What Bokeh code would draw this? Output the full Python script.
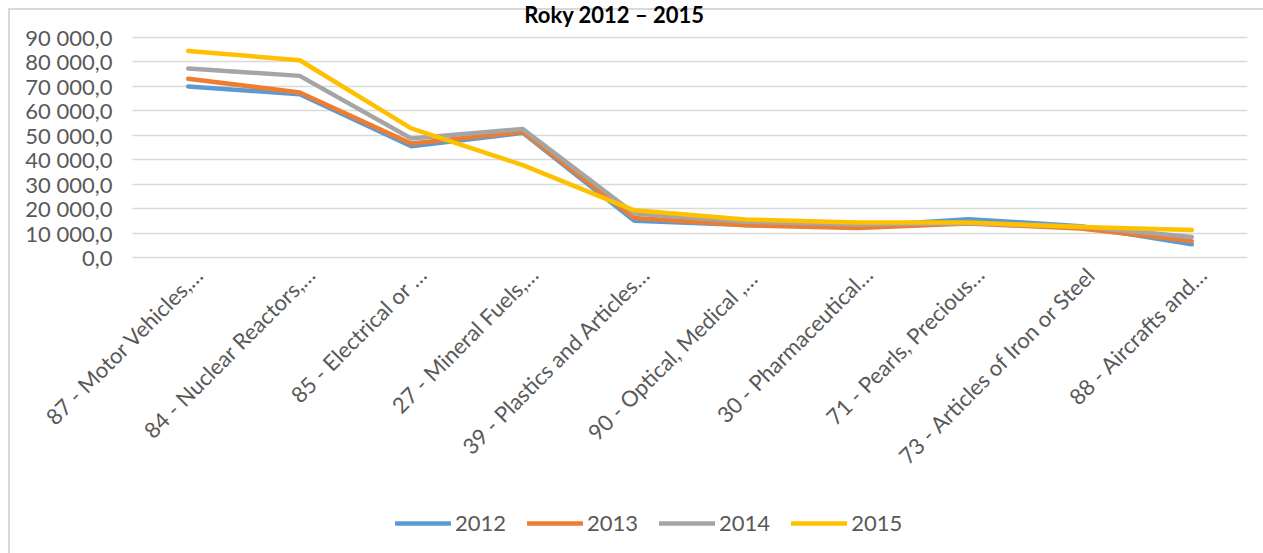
import math
from bokeh.plotting import figure
from bokeh.models import (Range1d, FixedTicker, Legend, LegendItem,
                          Label, LinearAxis, Grid)
from bokeh.embed import file_html
from bokeh.resources import INLINE

# ---------------- data ----------------
categories = [
    "87 - Motor Vehicles,…",
    "84 - Nuclear Reactors,…",
    "85 - Electrical or …",
    "27 - Mineral Fuels,…",
    "39 - Plastics and Articles…",
    "90 - Optical,  Medical ,…",
    "30 - Pharmaceutical…",
    "71 - Pearls, Precious…",
    "73 - Articles of Iron or Steel",
    "88 - Aircrafts and…",
]
years = ["2012", "2013", "2014", "2015"]
v2012 = [70000, 66800, 45500, 51000, 15000, 13300, 12800, 15700, 12800, 5400]
v2013 = [73100, 67500, 46600, 51400, 16200, 13200, 12100, 13900, 11900, 6700]
v2014 = [77300, 74300, 48700, 52600, 18000, 14600, 13500, 14000, 12700, 8400]
v2015 = [84500, 80700, 52800, 37800, 19300, 15500, 14300, 14300, 12500, 11200]
series = [v2012, v2013, v2014, v2015]
colors = ["#5B9BD5", "#ED7D31", "#A5A5A5", "#FFC000"]
y_ticks = [0, 10000, 20000, 30000, 40000, 50000, 60000, 70000, 80000, 90000]
y_tick_labels = ["0,0", "10 000,0", "20 000,0", "30 000,0", "40 000,0",
                 "50 000,0", "60 000,0", "70 000,0", "80 000,0", "90 000,0"]
title_text = "Roky 2012 – 2015"

FONT = "Lato"
TXT = "#595959"
FS = "22px"

n = len(categories)
x_pos = list(range(n))  # category slots on the x scale

# The drawing frame covers the whole chart area (so that the category labels,
# the value labels, the title and the legend are not clipped).
PLOT_H = 220            # pixels between 0 and 90 000
ABOVE_H = 37            # pixels above the 90 000 line
BELOW_H = 296           # pixels from the 0 line to the chart bottom
SLOT_W = 111.5          # pixels per category
LEFT_W = 122            # pixels from frame left edge to the plot area
y_max = y_ticks[-1]
y_top = y_max + y_max * ABOVE_H / PLOT_H
y_bottom = -y_max * BELOW_H / PLOT_H
x_left = -0.5 - LEFT_W / SLOT_W
x_right = n - 0.5

p = figure(
    x_range=Range1d(x_left, x_right),
    y_range=Range1d(y_bottom, y_top),
    width=1263, height=553,
    output_backend="svg", toolbar_location=None,
    min_border_left=10, min_border_right=16,
    min_border_top=0, min_border_bottom=0,
)
p.outline_line_color = None
p.background_fill_alpha = 0
p.border_fill_alpha = 0
# outer chart border (only its left and top edges are on screen)
p.styles = {
    "background": ("linear-gradient(#d9d9d9,#d9d9d9) 8px 8px / 2px 100% no-repeat, "
                   "linear-gradient(#d9d9d9,#d9d9d9) 8px 8px / 100% 2px no-repeat, white"),
}

# y axis, fixed at the left edge of the plot area
yax = p.yaxis[0]
yax.fixed_location = -0.5
yax.ticker = FixedTicker(ticks=y_ticks)
yax.major_label_overrides = {t: l for t, l in zip(y_ticks, y_tick_labels)}
yax.axis_line_color = None
yax.major_tick_line_color = None
yax.minor_tick_line_color = None
yax.major_tick_in = 0
yax.major_tick_out = 0
yax.major_label_standoff = 20
yax.major_label_text_font = FONT
yax.major_label_text_font_size = FS
yax.major_label_text_color = TXT

# grid: horizontal lines across the plot area only
p.xgrid.grid_line_color = None
yg = p.ygrid[0]
yg.ticker = FixedTicker(ticks=y_ticks)
yg.grid_line_color = "#d9d9d9"
yg.grid_line_width = 1.5
if "cross_bounds" in Grid.properties():
    yg.cross_bounds = (-0.5, x_right)
else:
    yg.grid_line_color = None
    p.segment(x0=[-0.5] * len(y_ticks), x1=[x_right] * len(y_ticks),
              y0=y_ticks, y1=y_ticks, line_color="#d9d9d9", line_width=1.5)

# default x axis hidden; category labels come from the label axis below
p.xaxis[0].visible = False

# label axis: category names at the 0 line, anchors nudged right like the original
shift = 0.1
p.extra_x_ranges = {"lab": Range1d(x_left - shift, x_right - shift)}
lab_axis = LinearAxis(x_range_name="lab", fixed_location=0,
                      ticker=FixedTicker(ticks=x_pos),
                      major_label_overrides={i: c for i, c in zip(x_pos, categories)})
lab_axis.axis_line_color = None
lab_axis.major_tick_line_color = None
lab_axis.minor_tick_line_color = None
lab_axis.major_tick_in = 0
lab_axis.major_tick_out = 0
lab_axis.major_label_orientation = math.pi / 4
lab_axis.major_label_standoff = 13
lab_axis.major_label_text_font = FONT
lab_axis.major_label_text_font_size = FS
lab_axis.major_label_text_color = TXT
p.add_layout(lab_axis, "below")

# lines
items = []
for yr, vals, col in zip(years, series, colors):
    r = p.line(x=x_pos, y=vals, line_color=col, line_width=4.5,
               line_join="round", line_cap="round")
    items.append(LegendItem(label=yr, renderers=[r]))

legend = Legend(items=items, orientation="horizontal", location=(385, 17),
                label_text_font=FONT, label_text_font_size=FS,
                label_text_color=TXT, glyph_width=56, glyph_height=20,
                label_standoff=4, spacing=21, padding=0, margin=0,
                border_line_color=None, background_fill_alpha=0)
p.add_layout(legend, "center")

# title (at the very top, as in the original)
title = Label(x=614, y=0, x_units="canvas", y_units="canvas", text=title_text,
              text_font=FONT, text_font_style="bold", text_font_size="22px",
              text_color="black", text_align="center", text_baseline="top")
p.add_layout(title, "center")

open("out.html", "w").write(file_html(p, INLINE))
